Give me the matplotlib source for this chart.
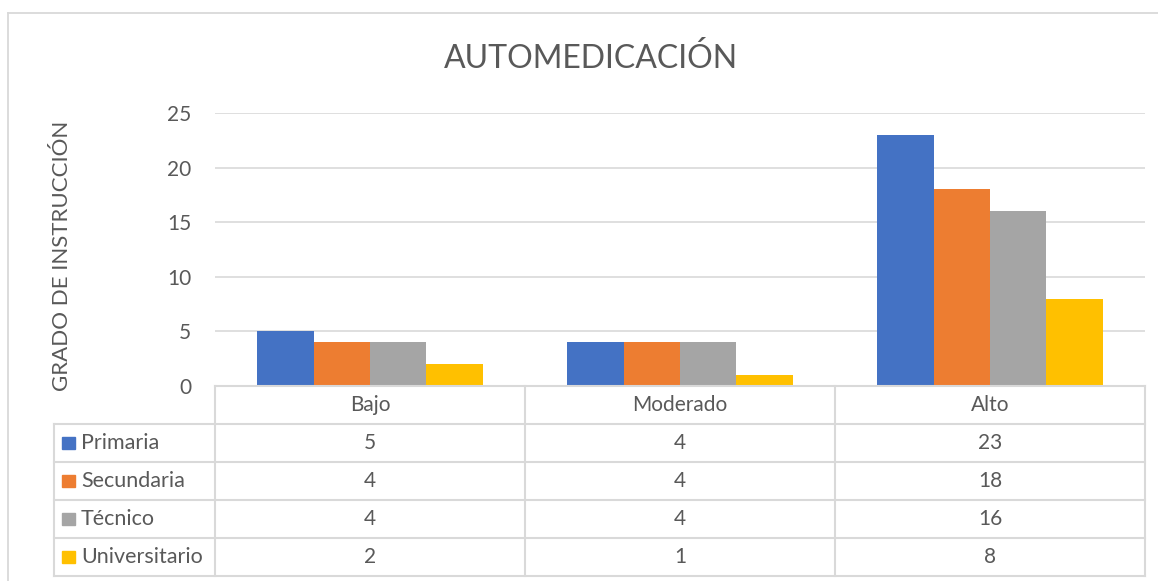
import numpy as np
import matplotlib.pyplot as plt
from matplotlib.patches import Rectangle

plt.rcParams['font.family'] = ['Lato', 'DejaVu Sans']

categories = ["Bajo", "Moderado", "Alto"]
series = ["Primaria", "Secundaria", "Técnico", "Universitario"]
values = [
    [5, 4, 23],
    [4, 4, 18],
    [4, 4, 16],
    [2, 1, 8],
]
colors = ["#4472C4", "#ED7D31", "#A5A5A5", "#FFC000"]
yticks = [0, 5, 10, 15, 20, 25]

W, H = 1158, 581
txt = "#595959"
grid = "#D9D9D9"

fig = plt.figure(figsize=(W / 100, H / 100), dpi=100)

# outer chart border (left & top visible)
fig.add_artist(plt.Line2D([8 / W, 8 / W], [0, 1 - 13 / H], color=grid, lw=1.3))
fig.add_artist(plt.Line2D([8 / W, 1], [1 - 13 / H, 1 - 13 / H], color=grid, lw=1.3))

# bar axes
ax = fig.add_axes([215 / W, 1 - 386 / H, 930 / W, 273 / H])
x = np.arange(len(categories))
bw = 0.182
for i, (name, vals) in enumerate(zip(series, values)):
    ax.bar(x + (i - 1.5) * bw, vals, bw, color=colors[i], zorder=3)
ax.set_xlim(-0.5, 2.5)
ax.set_ylim(0, 25)
ax.set_yticks(yticks)
ax.set_xticks([])
ax.yaxis.grid(True, color=grid, lw=1.2, zorder=0)
ax.tick_params(axis='y', length=0, pad=17, labelsize=15, labelcolor=txt)
for s in ax.spines.values():
    s.set_visible(False)

fig.text(591 / W, 1 - 58 / H, "AUTOMEDICACIÓN", ha='center', va='center',
         fontsize=23, color=txt)
fig.text(62 / W, 1 - 256 / H, "GRADO DE INSTRUCCIÓN", ha='center', va='center',
         rotation=90, fontsize=16, color=txt)

# data table
lw_units = 161 / 310
tab = fig.add_axes([54 / W, 1 - 576 / H, 1091 / W, 190 / H])
tab.set_xlim(-0.5 - lw_units, 2.5)
tab.set_ylim(5, 0)
tab.axis('off')
left = -0.5 - lw_units
# horizontal lines
tab.plot([-0.5, 2.5], [0, 0], color=grid, lw=1.5, clip_on=False)
for r in range(1, 6):
    tab.plot([left, 2.5], [r, r], color=grid, lw=1.5, clip_on=False)
# vertical lines
tab.plot([left, left], [1, 5], color=grid, lw=1.5, clip_on=False)
for c in [-0.5, 0.5, 1.5, 2.5]:
    tab.plot([c, c], [0, 5], color=grid, lw=1.5, clip_on=False)
for j, cat in enumerate(categories):
    tab.text(j, 0.5, cat, ha='center', va='center', fontsize=15, color=txt)
for i, name in enumerate(series):
    key = 13 / 310
    tab.add_patch(Rectangle((left + 8 / 310, i + 1.5 - 0.17), key, 0.34,
                            color=colors[i], clip_on=False))
    tab.text(left + 27 / 310, i + 1.5, name, ha='left', va='center',
             fontsize=15.5, color=txt)
    for j in range(len(categories)):
        tab.text(j, i + 1.5, str(values[i][j]), ha='center', va='center',
                 fontsize=15, color=txt)

fig.savefig("out.png", dpi=100)
